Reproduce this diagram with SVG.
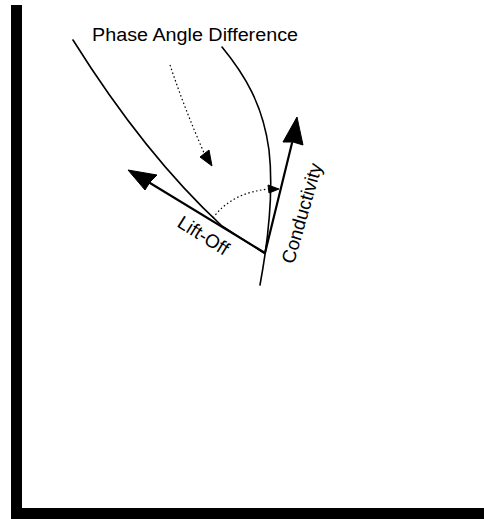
<svg xmlns="http://www.w3.org/2000/svg" width="484" height="519" viewBox="0 0 484 519">
  <style>
    .curve { fill: none; stroke: #000; stroke-width: 1.6; stroke-linecap: round; }
    .vec { fill: none; stroke: #000; stroke-width: 2.2; stroke-linecap: round; }
    .dot { fill: none; stroke: #000; stroke-width: 1.2; stroke-dasharray: 1.5 2.5; }
    .head { fill: #000; stroke: #000; stroke-width: 1; stroke-linejoin: round; }
    .lbl { font-family: "Liberation Sans", Arial, sans-serif; font-size: 18px; fill: #000; }
  </style>
  <rect width="484" height="519" fill="#fff"/>
  <g id="frame">
    <rect x="11" y="5" width="11" height="514" fill="#000"/>
    <rect x="11" y="508" width="473" height="11" fill="#000"/>
  </g>
  <g id="curves">
    <path id="left-curve" class="curve" d="M73,40 Q145,155 222,226 L264,253"/>
    <path id="right-curve" class="curve" d="M222,47 C245,75 263,105 269,150 C273,185 271,225 260,285"/>
  </g>
  <g id="connectors">
    <g id="liftoff-vector">
      <path class="vec" d="M265,253 L150,183"/>
      <path class="head" d="M128,170 L157,175 L150,182 L145,190 Z"/>
    </g>
    <g id="conductivity-vector">
      <path class="vec" d="M265,253 L292,143"/>
      <path class="head" d="M297,117 L303,145 L293,142 L283,142 Z"/>
    </g>
    <g id="phase-arc">
      <path class="dot" d="M213,218 Q232,192 270,189"/>
      <path class="head" d="M279,189 L268,185 L269,193 Z"/>
    </g>
    <g id="phase-pointer">
      <path class="dot" d="M170,65 Q185,110 205,155"/>
      <path class="head" d="M212,166 L200,157 L209,150 Z"/>
    </g>
  </g>
  <g id="label-phase">
    <text class="lbl" x="92" y="41" textLength="206" lengthAdjust="spacingAndGlyphs">Phase Angle Difference</text>
  </g>
  <g id="label-liftoff">
    <text class="lbl" style="font-size:19px" text-anchor="middle" transform="translate(200,241) rotate(32)">Lift-Off</text>
  </g>
  <g id="label-conductivity">
    <text class="lbl" style="font-size:19px" text-anchor="middle" transform="translate(308,215) rotate(-74)">Conductivity</text>
  </g>
</svg>
